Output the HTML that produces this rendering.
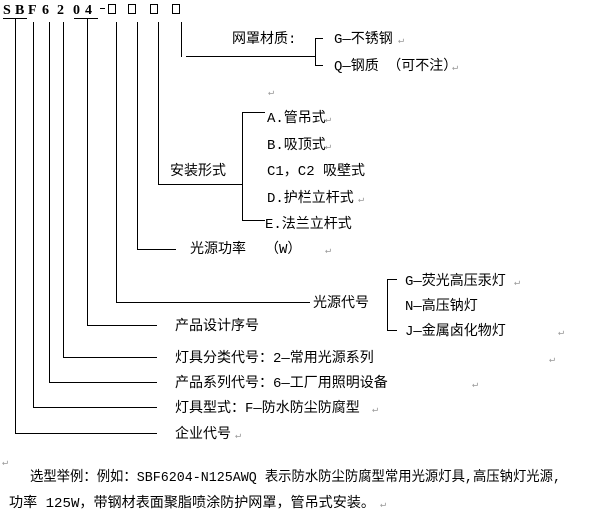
<!DOCTYPE html>
<html><head><meta charset="utf-8"><style>
html,body{margin:0;padding:0;background:#fff;width:612px;height:517px;overflow:hidden}
svg{display:block}
text{font-family:"Liberation Mono","Noto Sans CJK SC",monospace;font-size:14px;fill:#000}
.b{font-family:"Liberation Serif",serif;font-weight:bold;font-size:14px}
.r{fill:#999;font-size:10px}
</style></head><body>
<svg width="612" height="517" viewBox="0 0 612 517">
<text class="b" x="3" y="14">S</text>
<text class="b" x="15" y="14">B</text>
<text class="b" x="28" y="14">F</text>
<text class="b" x="42" y="14">6</text>
<text class="b" x="57" y="14">2</text>
<text class="b" x="73" y="14">0</text>
<text class="b" x="85" y="14">4</text>
<g stroke="#000" stroke-width="1" fill="none">
<line x1="100" y1="8.5" x2="105" y2="8.5"/>
<rect x="108.5" y="4.5" width="7" height="9"/>
<rect x="128.5" y="4.5" width="7" height="9"/>
<rect x="150.5" y="4.5" width="7" height="9"/>
<rect x="172.5" y="4.5" width="7" height="9"/>
<line x1="3" y1="18.5" x2="27" y2="18.5"/>
<line x1="74" y1="18.5" x2="98" y2="18.5"/>
<polyline points="15.5,19 15.5,433.5 157,433.5"/>
<polyline points="33.5,22 33.5,407.5 157,407.5"/>
<polyline points="49.5,22 49.5,382.5 157,382.5"/>
<polyline points="63.5,22 63.5,357.5 157,357.5"/>
<polyline points="87.5,19 87.5,325.5 157,325.5"/>
<polyline points="116.5,22 116.5,302.5 310,302.5"/>
<polyline points="137.5,22 137.5,249.5 176,249.5"/>
<polyline points="158.5,22 158.5,184.5 242,184.5"/>
<line x1="181.5" y1="22" x2="181.5" y2="57"/>
<line x1="186" y1="56.5" x2="315" y2="56.5"/>
<polyline points="323,38.5 315.5,38.5 315.5,65.5 323,65.5"/>
<polyline points="265,112.5 242.5,112.5 242.5,220.5 265,220.5"/>
<polyline points="397,279.5 387.5,279.5 387.5,330.5 397,330.5"/>
</g>
<text x="232" y="43">网罩材质:</text>
<text x="334" y="43">G—不锈钢</text><text class="r" x="398" y="43">↵</text>
<text x="334" y="70">Q—钢质 （可不注）</text><text class="r" x="452" y="70">↵</text>
<text class="r" x="268" y="95">↵</text>
<text x="267" y="122">A.管吊式</text><text class="r" x="325" y="122">↵</text>
<text x="267" y="149">B.吸顶式</text><text class="r" x="325" y="149">↵</text>
<text x="170" y="175">安装形式</text>
<text x="267" y="175">C1，C2 吸壁式</text>
<text x="267" y="202">D.护栏立杆式</text><text class="r" x="358" y="202">↵</text>
<text x="265" y="228">E.法兰立杆式</text>
<text x="190" y="253">光源功率</text><text x="265" y="253">（W）</text><text class="r" x="325" y="253">↵</text>
<text x="405" y="285">G—荧光高压汞灯</text><text class="r" x="514" y="285">↵</text>
<text x="313" y="307">光源代号</text>
<text x="405" y="310">N—高压钠灯</text>
<text x="405" y="335">J—金属卤化物灯</text><text class="r" x="558" y="335">↵</text>
<text x="175" y="330">产品设计序号</text>
<text x="175" y="362">灯具分类代号：2—常用光源系列</text><text class="r" x="549" y="362">↵</text>
<text x="175" y="387">产品系列代号：6—工厂用照明设备</text><text class="r" x="472" y="387">↵</text>
<text x="175" y="412">灯具型式：F—防水防尘防腐型</text><text class="r" x="372" y="412">↵</text>
<text x="175" y="438">企业代号</text><text class="r" x="235" y="438">↵</text>
<text class="r" x="2" y="465">↵</text>
<text x="30" y="481" textLength="531" lengthAdjust="spacingAndGlyphs">选型举例：例如：SBF6204-N125AWQ 表示防水防尘防腐型常用光源灯具,高压钠灯光源,</text>
<text x="9" y="507" textLength="366" lengthAdjust="spacingAndGlyphs">功率 125W，带钢材表面聚脂喷涂防护网罩，管吊式安装。</text><text class="r" x="380" y="507">↵</text>
</svg>
</body></html>
